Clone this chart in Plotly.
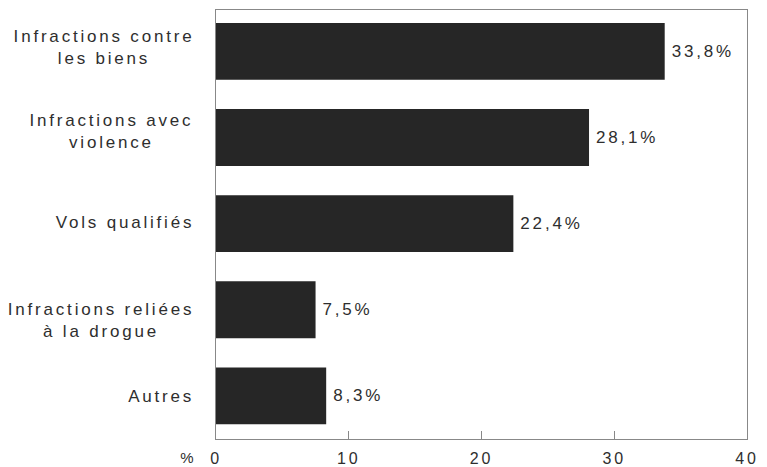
import plotly.graph_objects as go

# Categories (top to bottom) and their shares in percent
categories = ["Infractions contre<br>les biens", "Infractions avec<br>violence",
              "Vols qualifiés", "Infractions reliées<br>à la drogue", "Autres"]
values = [33.8, 28.1, 22.4, 7.5, 8.3]
tick_vals = [0, 10, 20, 30, 40]
tick_text = ["0", "10", "20", "30", "40"]

# small vertical nudges of the category labels (px, positive = down)
label_nudge = [-4, -6, -1, 11, 1]

FONT = "Liberation Sans, Arial, sans-serif"
TXT = "#2e2e2e"
FS = 17

value_text = [f"{v:.1f}".replace(".", ",") + "%" for v in values]

fig = go.Figure(go.Bar(
    x=values, y=list(range(len(values))), orientation="h",
    marker=dict(color="#262626", line=dict(width=0)),
    width=0.66,
    text=value_text, textposition="outside",
    textfont=dict(family=FONT, size=FS, color=TXT),
    cliponaxis=False,
))

annotations = []
for i, (c, dy) in enumerate(zip(categories, label_nudge)):
    annotations.append(dict(
        x=0, xref="paper", y=i, yref="y", text=c, showarrow=False,
        xanchor="right", align="center", xshift=-20, yshift=-dy,
        font=dict(family=FONT, size=FS, color=TXT),
    ))
# unit marker beside the x tick labels
annotations.append(dict(
    x=0, xref="paper", y=0, yref="paper", text="%", showarrow=False,
    xanchor="right", yanchor="middle", xshift=-18, yshift=-18,
    font=dict(family=FONT, size=FS - 2, color=TXT),
))

fig.update_layout(
    width=767, height=467,
    margin=dict(l=216, r=20, t=10, b=28),
    paper_bgcolor="white", plot_bgcolor="white",
    showlegend=False,
    annotations=annotations,
    xaxis=dict(
        range=[0, 40], tickvals=tick_vals, ticktext=tick_text,
        ticks="inside", ticklen=8, tickcolor="#888",
        showgrid=False, zeroline=False,
        showline=True, linecolor="#888", linewidth=1, mirror=True,
        tickfont=dict(family=FONT, size=16, color=TXT),
        ticklabelstandoff=5, automargin=False,
    ),
    yaxis=dict(
        range=[4.5, -0.48], showticklabels=False, ticks="",
        showgrid=False, zeroline=False, automargin=False,
        showline=True, linecolor="#888", linewidth=1, mirror=True,
    ),
)

# Wide tracking for all text; right-anchored labels keep their right edge,
# bar value labels keep their left edge (plus a little extra gap).
post = """
var gd = document.getElementById('{plot_id}');
function shift(t, d) {
  if (t.hasAttribute('x')) t.setAttribute('x', (+t.getAttribute('x') || 0) + d);
  t.querySelectorAll('tspan[x]').forEach(function (s) {
    s.setAttribute('x', (+s.getAttribute('x') || 0) + d);
  });
}
var ann = Array.from(gd.querySelectorAll('.annotation-text'));
var bars = Array.from(gd.querySelectorAll('text.bartext'));
var wa = ann.map(function (t) { return t.getBBox().width; });
var wb = bars.map(function (t) { return t.getBBox().width; });
var st = document.createElement('style');
st.textContent = '.main-svg text { letter-spacing: 2.8px; }';
document.head.appendChild(st);
ann.forEach(function (t, i) { shift(t, -(t.getBBox().width - wa[i]) / 2); });
bars.forEach(function (t, i) { shift(t, (t.getBBox().width - wb[i]) / 2 + 4); });
"""

fig.write_html("out.html", post_script=post)
